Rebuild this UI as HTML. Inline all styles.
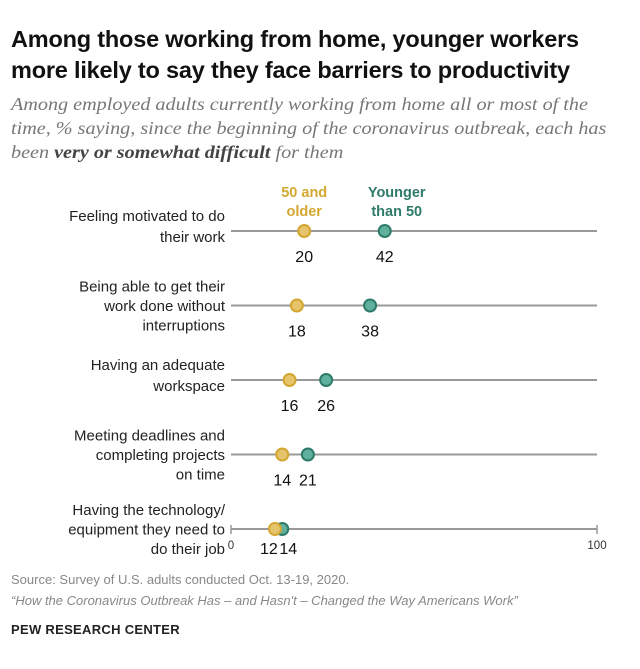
<!DOCTYPE html>
<html><head><meta charset="utf-8"><style>
body{margin:0;background:#fff;width:640px;height:669px;overflow:hidden;font-family:"Liberation Sans",sans-serif}
.t{position:absolute;left:11px;top:24px;font-size:23.5px;font-weight:bold;line-height:31px;color:#111;letter-spacing:-0.2px}
.s{position:absolute;left:11px;top:92px;font-size:18px;font-style:italic;line-height:24px;color:#777;font-family:"Liberation Serif",serif;white-space:nowrap;transform:scaleX(1.12);transform-origin:left top}
.s b{color:#444}
.f{position:absolute;left:11px;font-size:13px;color:#888}
</style></head><body>
<div class="t">Among those working from home, younger workers<br>more likely to say they face barriers to productivity</div>
<div class="s">Among employed adults currently working from home all or most of the<br>time, % saying, since the beginning of the coronavirus outbreak, each has<br>been <b>very or somewhat difficult</b> for them</div>
<svg id="c" width="640" height="669" style="position:absolute;left:0;top:0"></svg>
<div class="f" style="top:572px">Source: Survey of U.S. adults conducted Oct. 13-19, 2020.</div>
<div class="f" style="top:593px;font-style:italic">“How the Coronavirus Outbreak Has – and Hasn't – Changed the Way Americans Work”</div>
<div class="f" style="top:622px;font-weight:bold;color:#222;font-size:13px;letter-spacing:0.3px">PEW RESEARCH CENTER</div>
<script>
const categories=[["Feeling motivated to do","their work"],["Being able to get their","work done without","interruptions"],["Having an adequate","workspace"],["Meeting deadlines and","completing projects","on time"],["Having the technology/","equipment they need to","do their job"]];
const older=[20,18,16,14,12];
const younger=[42,38,26,21,14];
const ticks=[0,100];
const NS="http://www.w3.org/2000/svg",svg=document.getElementById('c');
const x=v=>231+v*3.66, y=i=>231+i*74.5;
function mk(t,a,p){const e=document.createElementNS(NS,t);for(const k in a)e.setAttribute(k,a[k]);(p||svg).appendChild(e);return e;}
function txt(s,a){const e=mk('text',a);e.textContent=s;return e;}
categories.forEach((lines,i)=>{
 const yy=y(i);
 const g=mk('g',{});
 
 
 const ln=mk('line',{x1:x(0),x2:x(100),y1:yy,y2:yy,stroke:'#999','stroke-width':2},g);
 
 
 const n=lines.length;
 lines.forEach((l,k)=>{
  const by=n==2?yy-10+k*21:yy-14+k*19.5;
  const t=txt(l,{x:225,y:by,'text-anchor':'end','font-size':15,fill:'#222'});
  
  });
 const last=i==categories.length-1, ly=last?yy+25:yy+31;
 const isClose=Math.abs(younger[i]-older[i])<4;
 [[older[i],isClose?-6:0],[younger[i],isClose?6:0]].forEach(([v,dx],j)=>{
  const lb=txt(v,{x:x(v)+dx,y:ly,'text-anchor':'middle','font-size':16,fill:'#111'});
  
  
 });
 [[younger[i],'#5fb09d','#2f7b69'],[older[i],'#e6c46c','#d2a630']].forEach(([v,f,s],j)=>{
  const c=mk('circle',{cx:x(v),cy:yy,r:6,fill:f,stroke:s,'stroke-width':2});
  
  
 });
});
const ay=y(4);
ticks.forEach(t=>{
 mk('line',{x1:x(t),x2:x(t),y1:ay-4,y2:ay+5,stroke:'#999','stroke-width':1.5});
 const e=txt(t,{x:x(t),y:ay+20,'text-anchor':'middle','font-size':11.5,fill:'#333'});
 
 
});
[['50 and','older',x(20),'#d4a830','legend-older'],['Younger','than 50',x(42)+12,'#2f7b69','legend-younger']].forEach(([a,b,xx,c,nm])=>{
 [a,b].forEach((s,k)=>{const e=txt(s,{x:xx,y:197+k*19,'text-anchor':'middle','font-size':14.5,'font-weight':'bold',fill:c});
  
  });
});
</script>
</body></html>
